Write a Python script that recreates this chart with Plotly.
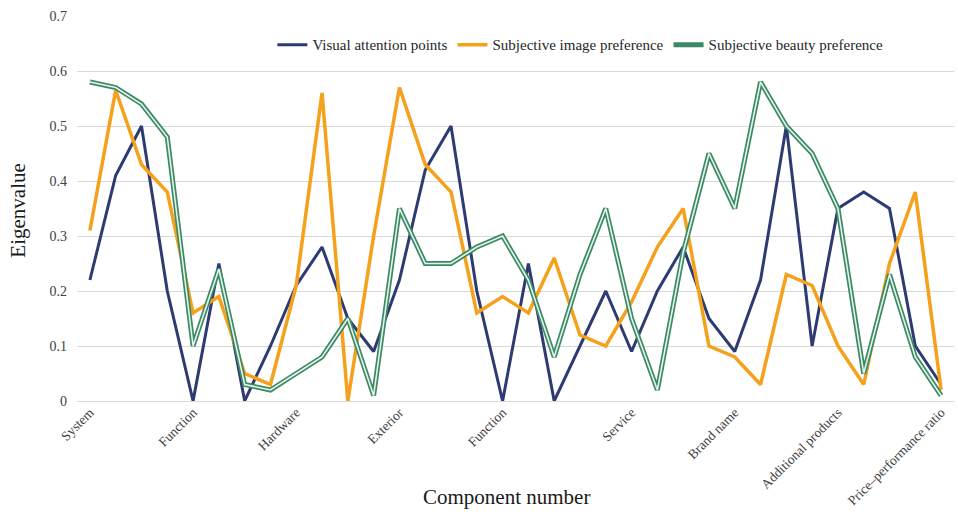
import plotly.graph_objects as go

# ---- data ----
tick_index = [0, 4, 8, 12, 16, 21, 25, 29, 33]
tick_labels = ["System", "Function", "Hardware", "Exterior", "Function",
               "Service", "Brand name", "Additional products", "Price\u2013performance ratio"]

visual_attention = [0.22, 0.41, 0.50, 0.20, 0.00, 0.25, 0.00, 0.10, 0.21, 0.28,
                    0.15, 0.09, 0.22, 0.42, 0.50, 0.20, 0.00, 0.25, 0.00, 0.10,
                    0.20, 0.09, 0.20, 0.28, 0.15, 0.09, 0.22, 0.50, 0.10, 0.35,
                    0.38, 0.35, 0.10, 0.03]
image_pref = [0.31, 0.565, 0.43, 0.38, 0.16, 0.19, 0.05, 0.03, 0.21, 0.56,
              0.00, 0.30, 0.57, 0.43, 0.38, 0.16, 0.19, 0.16, 0.26, 0.12,
              0.10, 0.18, 0.28, 0.35, 0.10, 0.08, 0.03, 0.23, 0.21, 0.10,
              0.03, 0.25, 0.38, 0.02]
beauty_pref = [0.58, 0.57, 0.54, 0.48, 0.10, 0.24, 0.03, 0.02, 0.05, 0.08,
               0.15, 0.01, 0.35, 0.25, 0.25, 0.28, 0.30, 0.22, 0.08, 0.23,
               0.35, 0.15, 0.02, 0.27, 0.45, 0.35, 0.58, 0.50, 0.45, 0.35,
               0.05, 0.23, 0.08, 0.01]

x = list(range(len(visual_attention)))

BLUE = "#2E3A72"
ORANGE = "#F5A11C"
GREEN = "#3B8A64"
GREEN_IN = "#E6F3EC"
FONT = "Liberation Serif"

fig = go.Figure()
fig.add_trace(go.Scatter(x=x, y=visual_attention, mode="lines", name="Visual attention points",
                         line=dict(color=BLUE, width=3)))
fig.add_trace(go.Scatter(x=x, y=image_pref, mode="lines", name="Subjective image preference",
                         line=dict(color=ORANGE, width=3.5)))
fig.add_trace(go.Scatter(x=x, y=beauty_pref, mode="lines", name="Subjective beauty preference",
                         line=dict(color=GREEN, width=5)))
fig.add_trace(go.Scatter(x=x, y=beauty_pref, mode="lines", showlegend=False, hoverinfo="skip",
                         line=dict(color=GREEN_IN, width=1.6)))

fig.update_layout(
    width=958, height=514,
    margin=dict(l=77, r=4, t=16, b=113, autoexpand=False),
    paper_bgcolor="white", plot_bgcolor="white",
    font=dict(family=FONT, color="#404040", size=13),
    legend=dict(orientation="h", x=0.574, xanchor="center", y=0.925, yanchor="middle",
                font=dict(family=FONT, size=15, color="#262626"),
                bgcolor="rgba(0,0,0,0)", itemwidth=30, tracegroupgap=0),
    xaxis=dict(range=[-0.5, len(x) - 0.5], tickmode="array", tickvals=tick_index,
               ticktext=tick_labels, tickangle=-45, showgrid=False, zeroline=False,
               showline=False, ticks="", automargin=False,
               tickfont=dict(family=FONT, size=13.5, color="#404040")),
    yaxis=dict(range=[0, 0.7], dtick=0.1, tick0=0, showgrid=True, gridcolor="#D9D9D9",
               gridwidth=1, zeroline=True, zerolinecolor="#D9D9D9", zerolinewidth=1,
               showline=False, ticks="", ticklabelstandoff=9, automargin=False,
               tickfont=dict(family=FONT, size=14, color="#404040")),
    annotations=[
        dict(text="Component number", xref="paper", yref="paper", x=0.49, y=-0.249,
             xanchor="center", yanchor="middle", showarrow=False,
             font=dict(family=FONT, size=21, color="#1a1a1a")),
        dict(text="Eigenvalue", xref="paper", yref="paper", x=-0.067, y=0.495,
             xanchor="center", yanchor="middle", showarrow=False, textangle=-90,
             font=dict(family=FONT, size=21, color="#1a1a1a")),
    ],
)

fig.write_html("out.html", config={"displayModeBar": False},
               post_script="document.body.style.margin='0px';document.body.style.overflow='hidden';")
